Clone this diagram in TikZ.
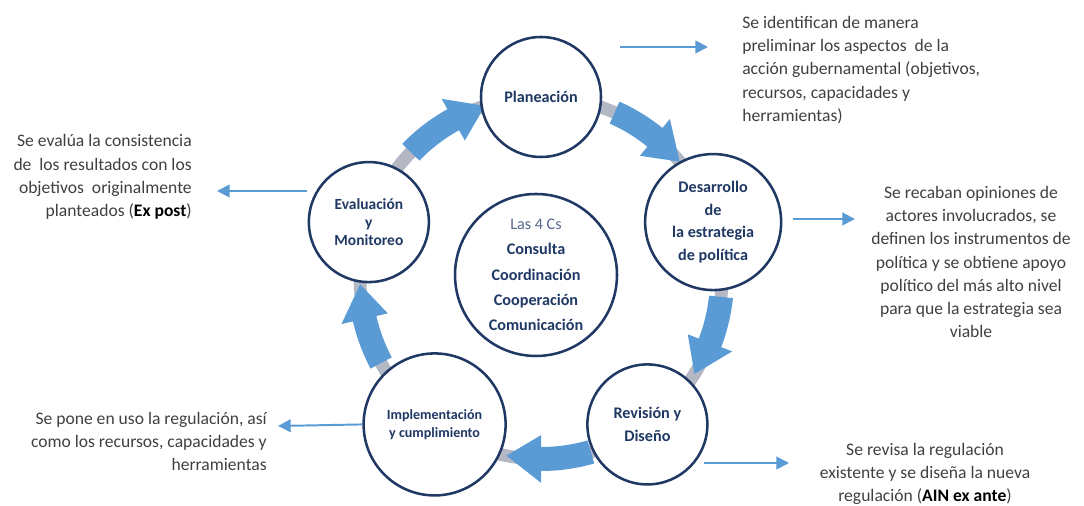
\documentclass[tikz,border=0pt]{standalone}
\usepackage{fontspec}
\setmainfont{Carlito}
\usetikzlibrary{arrows.meta}
\definecolor{navy}{HTML}{1F3864}
\definecolor{arrowblue}{HTML}{5B9BD5}
\definecolor{ringgray}{HTML}{B4B8C4}
\definecolor{notegray}{HTML}{404040}

\begin{document}
\begin{tikzpicture}[>={Triangle[length=9pt,width=9pt]},
  stage/.style={circle, draw=navy, line width=1.8pt, fill=white, text=navy,
    align=center, inner sep=0pt, minimum size=3cm,
    font=\bfseries\fontsize{11.5}{16}\selectfont},
  infotext/.style={text=notegray, inner sep=0pt,
    font=\fontsize{12.5}{16.5}\selectfont},
  pointer/.style={->, draw=arrowblue, line width=1.4pt},
  ring/.style={draw=ringgray, line width=0.32cm},
  block/.style={fill=arrowblue}]
  \useasboundingbox (0,0) rectangle (27.1,12.65);

  \begin{scope}[shift={(13.525,5.7)}]
    % gray band under the cycle
    \draw[ring] (0,0) circle (4.525);
    % block arrows, clockwise
    \foreach \s/\t in {66/40, -6/-32, -74/-101, 208/182, 136/108}{
      \pgfmathsetmacro{\hb}{\t+11}
      \fill[block] (\s:4.825) arc[start angle=\s, end angle=\hb, radius=4.825cm]
        -- (\hb:5.12) -- (\t:4.525) -- (\hb:3.93) -- (\hb:4.225)
        arc[start angle=\hb, end angle=\s, radius=4.225cm] -- cycle;
    }
    \node[stage] (plan) at (90:4.525) {Planeación};
    \node[stage, minimum size=3.4cm] (desa) at (18:4.525)
      {Desarrollo\\ de\\ la estrategia\\ de política};
    \node[stage] (revi) at (-54:4.525) {Revisión y\\ Diseño};
    \node[stage, minimum size=3.55cm, font=\bfseries\fontsize{10}{12.5}\selectfont]
      (impl) at (-126:4.525) {Implementación\\ y cumplimiento};
    \node[stage, font=\bfseries\fontsize{11}{13}\selectfont] (eval) at (162:4.525)
      {Evaluación\\ y\\ Monitoreo};
    \node[stage, minimum size=4.05cm, font=\bfseries\fontsize{11.5}{18}\selectfont]
      (cs) at (-0.125,0.075)
      {{\mdseries\color{navy!75}Las 4 Cs}\\ Consulta\\ Coordinación\\ Cooperación\\ Comunicación};
  \end{scope}

  % descriptions
  \node[infotext, anchor=west, align=left] (n1) at (18.55,10.9)
    {Se identifican de manera\\ preliminar los aspectos\ \ de la\\
     acción gubernamental (objetivos,\\ recursos, capacidades y\\ herramientas)};
  \node[infotext, align=center] (n2) at (24.275,6.1)
    {Se recaban opiniones de\\ actores involucrados, se\\ definen los instrumentos de\\
     política y se obtiene apoyo\\ político del más alto nivel\\ para que la estrategia sea\\ viable};
  \node[infotext, anchor=east, align=right] (n3) at (4.8,8.225)
    {Se evalúa la consistencia\\ de\ \ los resultados con los\\ objetivos\ \ originalmente\\
     planteados (\textbf{\color{black}Ex post})};
  \node[infotext, anchor=east, align=right] (n4) at (6.675,1.6125)
    {Se pone en uso la regulación, así\\ como los recursos, capacidades y\\ herramientas};
  \node[infotext, align=center] (n5) at (23.125,0.8)
    {Se revisa la regulación\\ existente y se diseña la nueva\\
     regulación (\textbf{\color{black}AIN ex ante})};

  % pointers to the descriptions
  \coordinate (p1) at (15.5,11.475);   \coordinate (q1) at (17.7,11.475);
  \coordinate (p2) at (19.825,7.175);  \coordinate (q2) at (21.375,7.175);
  \coordinate (p3) at (7.675,7.875);   \coordinate (q3) at (5.425,7.875);
  \coordinate (q4) at (6.95,2.0);
  \coordinate (p5) at (17.6,1.075);    \coordinate (q5) at (19.725,1.075);
  \draw[pointer] (p1) -- (q1);
  \draw[pointer] (p2) -- (q2);
  \draw[pointer] (p3) -- (q3);
  \draw[pointer] (impl.west) -- (q4);
  \draw[pointer] (p5) -- (q5);
\end{tikzpicture}
\end{document}
